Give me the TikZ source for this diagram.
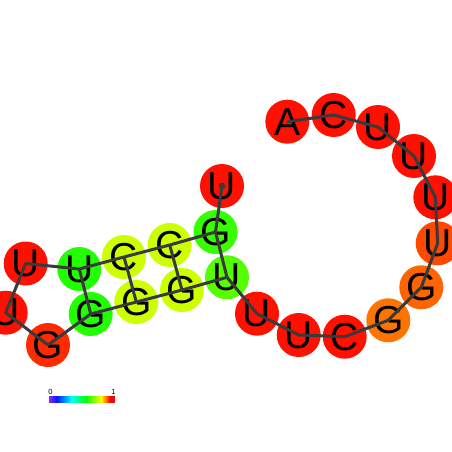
\documentclass[tikz,border=0pt]{standalone}
\usepackage{fontspec}
\setmainfont{Liberation Sans}
\usepackage{xcolor}
\usepackage{tikz}

\definecolor{pRed}{HTML}{FF1000}
\definecolor{pRedOr}{HTML}{FF2A00}
\definecolor{pOrRed}{HTML}{FF4800}
\definecolor{pOrange}{HTML}{FF6400}
\definecolor{pOrangeL}{HTML}{FF7400}
\definecolor{pGreen}{HTML}{22FF00}
\definecolor{pLime}{HTML}{38FF00}
\definecolor{pLimeL}{HTML}{55FF00}
\definecolor{pYel}{HTML}{CCFF00}
\definecolor{bbline}{HTML}{3A3A3A}

\begin{document}
\begin{tikzpicture}[
        x=1pt, y=-1pt,
        base/.style={circle, minimum size=44pt, inner sep=0pt,
                     font=\fontsize{39}{39}\selectfont, text=black},
        backbone/.style={bbline, line width=3pt, line join=round},
        pair/.style={bbline, line width=3pt},
        tick/.style={font=\fontsize{7.5}{7.5}\selectfont, inner sep=0pt}
    ]
        \useasboundingbox (0,0) rectangle (452,452);
        \clip (0,0) rectangle (452,452);

        %--- Bases, 5' to 3' ---
        \node[base, fill=pRed] (b1) at (222,186) {U};
        \node[base, fill=pLime] (b2) at (215.5,232) {G};
        \node[base, fill=pYel] (b3) at (169.7,245) {C};
        \node[base, fill=pYel] (b4) at (124,257) {C};
        \node[base, fill=pGreen] (b5) at (79.3,269) {U};
        \node[base, fill=pRed] (b6) at (25.7,263.5) {U};
        \node[base, fill=pRed] (b7) at (5.7,312.7) {U};
        \node[base, fill=pRedOr] (b8) at (48,345) {G};
        \node[base, fill=pGreen] (b9) at (90.7,314) {G};
        \node[base, fill=pYel] (b10) at (136.3,302) {G};
        \node[base, fill=pYel] (b11) at (182,290) {G};
        \node[base, fill=pLimeL] (b12) at (227,277.3) {U};
        \node[base, fill=pRed] (b13) at (257,313.7) {U};
        \node[base, fill=pRed] (b14) at (298.7,335) {U};
        \node[base, fill=pRed] (b15) at (344.7,336.7) {C};
        \node[base, fill=pOrangeL] (b16) at (388.3,320.3) {G};
        \node[base, fill=pOrange] (b17) at (421.3,287.3) {G};
        \node[base, fill=pOrRed] (b18) at (437.7,243.3) {U};
        \node[base, fill=pRed] (b19) at (435.3,197.3) {U};
        \node[base, fill=pRed] (b20) at (414,156) {U};
        \node[base, fill=pRed] (b21) at (378,127) {U};
        \node[base, fill=pRed] (b22) at (333.7,115) {C};
        \node[base, fill=pRed] (b23) at (287.3,121.7) {A};

        %--- Backbone ---
        \draw[backbone] (b1.center) -- (b2.center) -- (b3.center) -- (b4.center)
            -- (b5.center) -- (b6.center) -- (b7.center) -- (b8.center)
            -- (b9.center) -- (b10.center) -- (b11.center) -- (b12.center)
            -- (b13.center) -- (b14.center) -- (b15.center) -- (b16.center)
            -- (b17.center) -- (b18.center) -- (b19.center) -- (b20.center)
            -- (b21.center) -- (b22.center) -- (b23.center);
        \fill[bbline] (b1.center) circle (3.4);

        %--- Base pairs ---
        \draw[pair] (b2.center) -- (b12.center);
        \draw[pair] (b3.center) -- (b11.center);
        \draw[pair] (b4.center) -- (b10.center);
        \draw[pair] (b5.center) -- (b9.center);

        %--- Colour bar ---
        \shade[left color={rgb,1:red,0.55;green,0.15;blue,1}, right color=blue!90!cyan]
            (49,396) rectangle (57,402.7);
        \shade[left color=blue!90!cyan, right color=cyan] (57,396) rectangle (71.5,402.7);
        \shade[left color=cyan, right color=green] (71.5,396) rectangle (86,402.7);
        \shade[left color=green, right color=yellow] (86,396) rectangle (101,402.7);
        \shade[left color=yellow, right color=red] (101,396) rectangle (110,402.7);
        \fill[red] (110,396) rectangle (115,402.7);
        \node[tick] (t0) at (50.5,392) {0};
        \node[tick] (t1) at (113.5,392) {1};
    \end{tikzpicture}
\end{document}
